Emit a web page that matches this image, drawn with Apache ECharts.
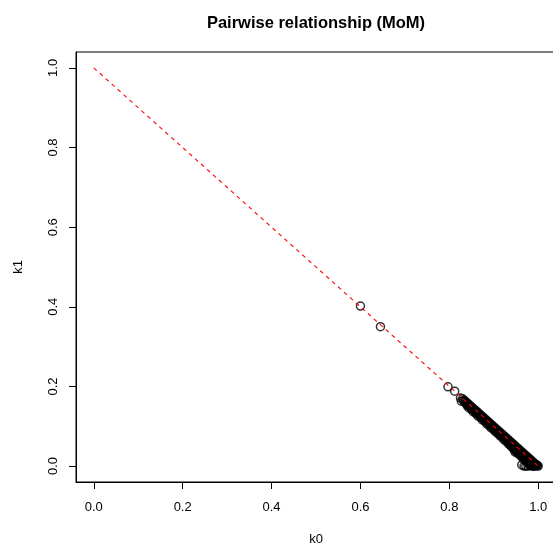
<!DOCTYPE html>
<html>
<head>
<meta charset="utf-8">
<script src="https://cdn.jsdelivr.net/npm/echarts@6/dist/echarts.min.js"></script>
<style>
  html, body { margin: 0; padding: 0; background: #fff; }
  #chart { width: 553px; height: 547px; }
</style>
</head>
<body>
<div id="chart"></div>
<script>
var tickValues = [0, 0.2, 0.4, 0.6, 0.8, 1.0];

// points (k0, k1), outliers first then the dense band
var k0Values = [
    0.600, 0.645, 0.797, 0.812, 0.825, 0.827,
    0.830, 0.835, 0.840, 0.845, 0.850, 0.855, 0.860, 0.865, 0.870, 0.875, 0.880, 0.885,
    0.890, 0.895, 0.900, 0.905, 0.910, 0.915, 0.920, 0.925, 0.930, 0.935, 0.940, 0.945,
    0.950, 0.955, 0.960, 0.965, 0.970, 0.975, 0.980, 0.985, 0.990, 0.995, 1.000,
    0.833, 0.838, 0.843, 0.848, 0.853, 0.858, 0.863, 0.868, 0.873, 0.878, 0.883, 0.888,
    0.893, 0.898, 0.903, 0.908, 0.913, 0.918, 0.923, 0.928, 0.933, 0.938, 0.943, 0.948,
    0.953, 0.958, 0.963, 0.968, 0.973, 0.978, 0.983, 0.988, 0.993, 0.998,
    0.840, 0.850, 0.860, 0.870, 0.880, 0.890, 0.900, 0.910, 0.920, 0.930, 0.935, 0.940,
    0.945, 0.950, 0.955, 0.960, 0.965, 0.970, 0.975, 0.980, 0.985, 0.990,
    0.836, 0.846, 0.856, 0.866, 0.876, 0.886, 0.896, 0.906, 0.916, 0.926, 0.936, 0.946,
    0.956, 0.966, 0.976, 0.986, 0.996,
    0.832, 0.837, 0.842, 0.847, 0.852, 0.857, 0.862, 0.867, 0.872, 0.877, 0.882, 0.887,
    0.892, 0.897, 0.902, 0.907, 0.912, 0.917, 0.922, 0.927, 0.932, 0.937, 0.942, 0.947,
    0.952, 0.957, 0.962, 0.967, 0.972, 0.977, 0.982, 0.987, 0.992, 0.997,
    0.844, 0.854, 0.864, 0.874, 0.884, 0.894, 0.904, 0.914, 0.924, 0.934, 0.939, 0.944,
    0.949, 0.954, 0.959, 0.964, 0.969, 0.974, 0.979, 0.984, 0.989,
    0.945, 0.948, 0.963, 0.968, 0.972, 0.977, 0.982, 0.987, 0.992
];
var k1Values = [
    0.402, 0.350, 0.199, 0.188, 0.171, 0.163,
    0.169, 0.164, 0.159, 0.154, 0.149, 0.144, 0.139, 0.134, 0.129, 0.124, 0.119, 0.114,
    0.109, 0.104, 0.099, 0.094, 0.089, 0.084, 0.079, 0.074, 0.069, 0.064, 0.059, 0.054,
    0.049, 0.044, 0.039, 0.034, 0.029, 0.024, 0.019, 0.014, 0.009, 0.004, 0.000,
    0.162, 0.157, 0.152, 0.147, 0.142, 0.137, 0.132, 0.127, 0.122, 0.117, 0.112, 0.107,
    0.102, 0.097, 0.092, 0.087, 0.082, 0.077, 0.072, 0.067, 0.062, 0.057, 0.052, 0.047,
    0.042, 0.037, 0.032, 0.027, 0.022, 0.017, 0.012, 0.007, 0.003, 0.001,
    0.152, 0.142, 0.132, 0.122, 0.112, 0.101, 0.091, 0.081, 0.070, 0.060, 0.055, 0.049,
    0.043, 0.037, 0.031, 0.026, 0.020, 0.014, 0.009, 0.005, 0.002, 0.000,
    0.160, 0.150, 0.140, 0.130, 0.120, 0.110, 0.100, 0.089, 0.079, 0.069, 0.058, 0.048,
    0.038, 0.028, 0.018, 0.009, 0.002,
    0.165, 0.160, 0.155, 0.150, 0.145, 0.140, 0.135, 0.130, 0.125, 0.120, 0.115, 0.110,
    0.105, 0.100, 0.095, 0.090, 0.085, 0.080, 0.075, 0.070, 0.065, 0.060, 0.055, 0.050,
    0.045, 0.040, 0.035, 0.030, 0.025, 0.020, 0.015, 0.010, 0.005, 0.002,
    0.146, 0.136, 0.126, 0.116, 0.106, 0.096, 0.086, 0.076, 0.065, 0.055, 0.050, 0.044,
    0.039, 0.034, 0.029, 0.023, 0.018, 0.013, 0.008, 0.004, 0.001,
    0.045, 0.035, 0.003, 0.000, 0.000, 0.000, 0.001, 0.000, 0.000
];

// reference line k1 = 1 - k0
var refLine = [[0, 1], [1, 0]];

var points = k0Values.map(function (v, i) {
    return [v, k1Values[i]];
});

var font = 'Liberation Sans, Arial, Helvetica, sans-serif';

var chart = echarts.init(document.getElementById('chart'));
var option = {
    backgroundColor: '#fff',
    animation: false,
    title: {
        text: 'Pairwise relationship (MoM)',
        left: 311,
        top: 10,
        textAlign: 'center',
        textStyle: { fontFamily: font, fontSize: 16.5, fontWeight: 'bold', color: '#000' }
    },
    grid: {
        left: 76,
        top: 52,
        width: 480,
        height: 430,
        outerBoundsMode: 'none',
        containLabel: false,
        show: true,
        borderColor: '#000',
        borderWidth: 1,
        backgroundColor: 'transparent'
    },
    xAxis: {
        type: 'value',
        min: -0.04,
        max: 1.04,
        name: 'k0',
        nameLocation: 'middle',
        nameGap: 51,
        nameTextStyle: { fontFamily: font, fontSize: 13, color: '#000' },
        axisLine: { show: true, onZero: false, lineStyle: { color: '#000' } },
        axisTick: { show: true, length: 7, customValues: tickValues, lineStyle: { color: '#000' } },
        axisLabel: {
            customValues: tickValues,
            margin: 19,
            fontFamily: font,
            fontSize: 13,
            color: '#000',
            formatter: function (v) { return v.toFixed(1); }
        },
        splitLine: { show: false }
    },
    yAxis: {
        type: 'value',
        min: -0.04,
        max: 1.04,
        name: 'k1',
        nameLocation: 'middle',
        nameGap: 51,
        nameRotate: 90,
        nameTextStyle: { fontFamily: font, fontSize: 13, color: '#000' },
        axisLine: { show: true, onZero: false, lineStyle: { color: '#000' } },
        axisTick: { show: true, length: 7, customValues: tickValues, lineStyle: { color: '#000' } },
        axisLabel: {
            customValues: tickValues,
            rotate: 90,
            margin: 16,
            fontFamily: font,
            fontSize: 13,
            color: '#000',
            formatter: function (v) { return v.toFixed(1); }
        },
        splitLine: { show: false }
    },
    series: [
        {
            type: 'scatter',
            data: points,
            symbol: 'circle',
            symbolSize: 8,
            itemStyle: { color: 'rgba(0,0,0,0)', borderColor: '#000', borderWidth: 1.5 },
            z: 2
        },
        {
            type: 'line',
            data: refLine,
            symbol: 'none',
            lineStyle: { color: '#ff0000', width: 1.1, type: [4, 4] },
            z: 3
        }
    ]
};
chart.setOption(option);
</script>
</body>
</html>
